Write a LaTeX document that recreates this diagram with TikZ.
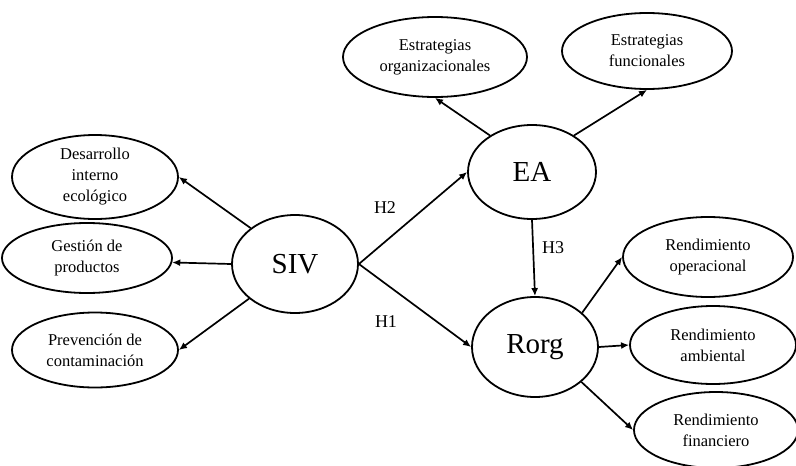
\documentclass[tikz,border=0pt]{standalone}
\usepackage{fontspec}
\setmainfont{Liberation Serif}
\usetikzlibrary{shapes.geometric,arrows.meta}
\tikzset{
  construct/.style={ellipse, draw, line width=1.8pt, inner sep=0pt, font=\fontsize{29}{34}\selectfont},
  indicator/.style={ellipse, draw, line width=1.8pt, inner sep=1pt, align=center, font=\fontsize{16.5}{21}\selectfont},
  link/.style={draw, line width=1.7pt, -{Latex[length=8pt,width=7pt]}},
  hyp/.style={font=\fontsize{18}{20}\selectfont},
}

\begin{document}
\begin{tikzpicture}[x=1pt,y=-1pt]
  \useasboundingbox (0,0) rectangle (796,466);
  % latent constructs
  \node[construct, minimum width=126pt, minimum height=98pt] (SIV) at (295,264) {SIV};
  \node[construct, minimum width=128pt, minimum height=94pt] (EA) at (532,172) {EA};
  \node[construct, minimum width=126pt, minimum height=100pt] (Rorg) at (535,347) {Rorg};
  % SIV indicators
  \node[indicator, minimum width=166pt, minimum height=84pt] (des) at (95,177) {Desarrollo\\interno\\ecológico};
  \node[indicator, minimum width=170pt, minimum height=70pt] (ges) at (87,258) {Gestión de\\productos};
  \node[indicator, minimum width=166pt, minimum height=75pt] (pre) at (95,350) {Prevención de\\contaminación};
  % EA indicators
  \node[indicator, minimum width=184pt, minimum height=80pt] (eorg) at (435,57) {Estrategias\\organizacionales};
  \node[indicator, minimum width=170pt, minimum height=76pt] (efun) at (647,51) {Estrategias\\funcionales};
  % Rorg indicators
  \node[indicator, minimum width=170pt, minimum height=80pt] (rop) at (708,257) {Rendimiento\\operacional};
  \node[indicator, minimum width=166pt, minimum height=78pt] (ramb) at (713,345) {Rendimiento\\ambiental};
  \node[indicator, minimum width=164pt, minimum height=76pt] (rfin) at (716,430) {Rendimiento\\financiero};

  \draw[link] (SIV.141) -- (des.east);
  \draw[link] (SIV.west) -- (ges.-3);
  \draw[link] (SIV.217) -- (pre.east);
  \draw[link] (EA.139) -- (eorg.south);
  \draw[link] (EA.41) -- (efun.south);
  \draw[link] (Rorg.36) -- (rop.west);
  \draw[link] (Rorg.east) -- (ramb.west);
  \draw[link] (Rorg.-37) -- (rfin.west);
  % hypotheses
  \draw[link] (SIV.east) -- (EA.west);
  \draw[link] (SIV.east) -- (Rorg.west);
  \draw[link] (EA.south) -- (Rorg.north);
  \node[hyp] (H2) at (385,208) {H2};
  \node[hyp] (H1) at (386,322) {H1};
  \node[hyp] (H3) at (553,248) {H3};
\end{tikzpicture}
\end{document}
